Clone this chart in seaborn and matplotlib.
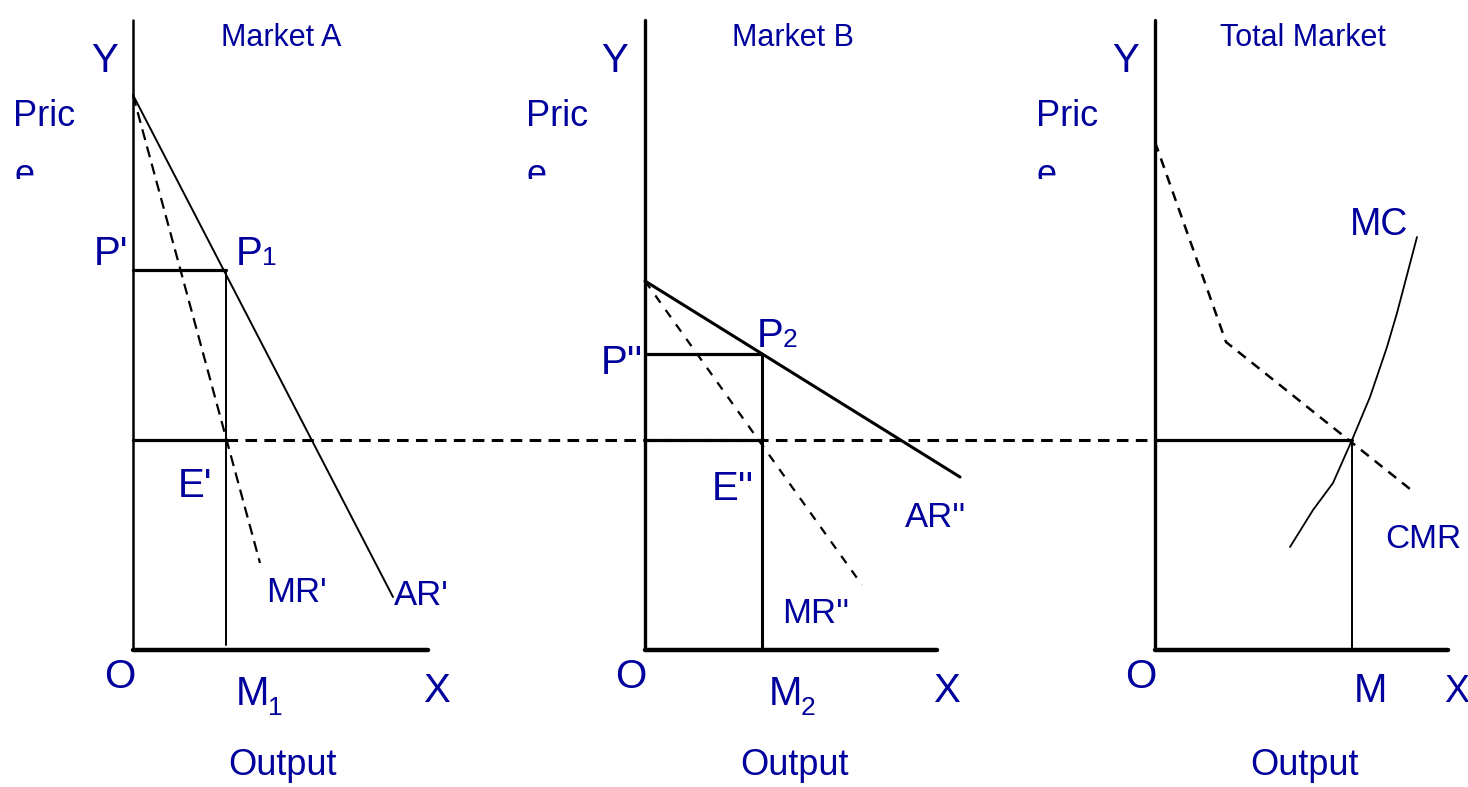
import numpy as np
import matplotlib
matplotlib.use("Agg")
import matplotlib.pyplot as plt
from matplotlib.transforms import Bbox
import seaborn as sns

W, H = 1468, 787
BLUE = "#00009C"

# panel origins O (figure pixels, measured from top-left)
origins = {"A": (133, 650), "B": (645, 650), "C": (1155, 650)}
axis_len_q = {"A": 295, "B": 292, "C": 293}
axis_len_p = 630

# Market A: quantity / price
ar_a_q = [0, 260]
ar_a_p = [555, 53]
mr_a_q = [0, 127]
mr_a_p = [555, 87]
p1_a = (93, 380)
e_a = (93, 210)

# Market B
ar_b_q = [0, 315]
ar_b_p = [369, 173]
mr_b_q = [0, 217]
mr_b_p = [369, 65]
p2_b = (117, 296)
e_b = (117, 210)

# Total market
cmr_q = [0, 71, 260]
cmr_p = [508, 308, 157]
mc_q = [135, 158, 178, 197, 215, 232, 242, 262]
mc_p = [103, 140, 167, 210, 253, 303, 337, 413]
e_c = (197, 210)

sns.set_theme(style="white")
plt.rcParams["font.family"] = ["Liberation Sans", "DejaVu Sans"]

fig = plt.figure(figsize=(W / 100, H / 100), dpi=100)
ax = fig.add_axes([0, 0, 1, 1])
ax.set_xlim(0, W)
ax.set_ylim(0, H)
ax.axis("off")


def draw(panel, q, p, lw=1.5, ls="-"):
    ox, oy = origins[panel]
    x = ox + np.asarray(q, dtype=float)
    y = (H - oy) + np.asarray(p, dtype=float)
    sns.lineplot(x=x, y=y, ax=ax, sort=False, estimator=None, color="black",
                 linewidth=lw, linestyle=ls, legend=False)


def label(x, y, s, size=29, ha="center"):
    return ax.text(x, H - y, s, color=BLUE, fontsize=size, ha=ha, va="baseline")


# axes of each panel
for pn in "ABC":
    draw(pn, [0, 0], [0, axis_len_p], lw=1.8 if pn == "A" else 2.4)
    draw(pn, [0, axis_len_q[pn]], [0, 0], lw=3.2)

# dashed price line running through all markets
ya = H - origins["A"][1] + e_a[1]
sns.lineplot(x=[origins["A"][0] + e_a[0], origins["C"][0]], y=[ya, ya], ax=ax,
             color="black", linewidth=2.2, linestyle=(0, (3.8, 2.4)), legend=False)

# Market A
draw("A", ar_a_q, ar_a_p, lw=1.4)
draw("A", mr_a_q, mr_a_p, lw=1.6, ls=(0, (5, 3)))
draw("A", [0, p1_a[0]], [p1_a[1], p1_a[1]], lw=2.3)
draw("A", [p1_a[0], p1_a[0]], [p1_a[1], 5], lw=1.4)
draw("A", [0, e_a[0]], [e_a[1], e_a[1]], lw=2.3)

# Market B
draw("B", ar_b_q, ar_b_p, lw=2.2)
draw("B", mr_b_q, mr_b_p, lw=1.6, ls=(0, (4, 4)))
draw("B", [0, p2_b[0]], [p2_b[1], p2_b[1]], lw=2.3)
draw("B", [p2_b[0], p2_b[0]], [p2_b[1], 0], lw=2.2)
draw("B", [0, e_b[0]], [e_b[1], e_b[1]], lw=2.3)

# Total market
draw("C", cmr_q, cmr_p, lw=1.8, ls=(0, (4, 3)))
draw("C", mc_q, mc_p, lw=1.3)
draw("C", [0, e_c[0]], [e_c[1], e_c[1]], lw=2.3)
draw("C", [e_c[0], e_c[0]], [e_c[1], 0], lw=1.4)

# text
for lx, title, tx, yx in [(13, "Market A", 281, 105), (526, "Market B", 793, 615),
                          (1036, "Total Market", 1303, 1126)]:
    label(tx, 46, title, size=22)
    label(yx, 72, "Y", size=29)
    label(lx, 126, "Pric", size=26, ha="left")
    t = label(lx + 1, 185, "e", size=26, ha="left")
    t.set_clip_box(Bbox.from_extents(lx - 5, H - 179, lx + 40, H - 150))
    t.set_clip_on(True)
    label(tx + 2, 775, "Output", size=26)

# Market A labels
label(111, 265, "P'")
label(249, 265, "P")
label(262, 265, "1", size=19, ha="left")
label(195, 497, "E'")
label(296, 602, "MR'", size=25)
label(421, 605, "AR'", size=25)
label(120, 688, "O")
label(252, 705, "M")
label(268, 715, "1", size=19, ha="left")
label(437, 702, "X")

# Market B labels
label(622, 374, "P''")
label(770, 347, "P")
label(783, 347, "2", size=19, ha="left")
label(733, 500, "E''")
label(936, 527, "AR''", size=25)
label(816, 623, "MR''", size=25)
label(631, 688, "O")
label(785, 705, "M")
label(801, 715, "2", size=19, ha="left")
label(947, 702, "X")

# Total market labels
label(1379, 235, "MC", size=27)
label(1423, 548, "CMR", size=24)
label(1141, 688, "O")
label(1370, 702, "M")
label(1457, 702, "X", size=27)

fig.savefig("out.png", dpi=100, facecolor="white")
